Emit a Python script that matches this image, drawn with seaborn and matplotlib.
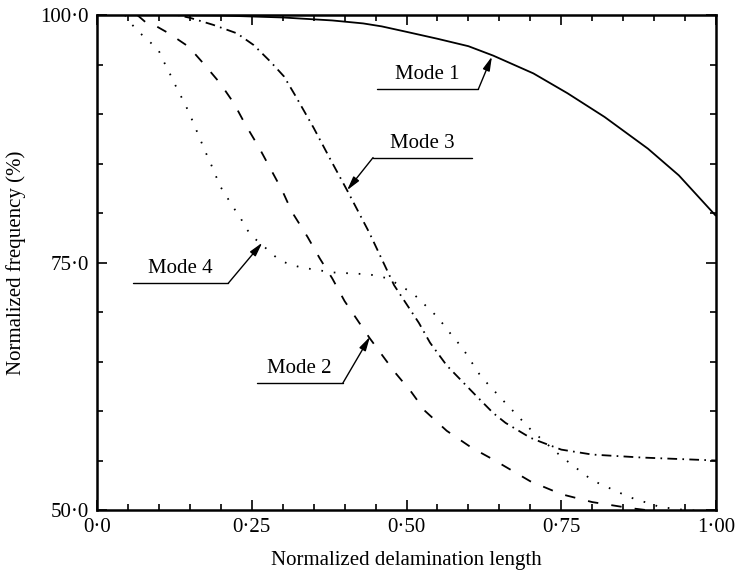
import matplotlib
matplotlib.use("Agg")
import matplotlib.pyplot as plt
import seaborn as sns
import pandas as pd
from matplotlib.ticker import MultipleLocator, FixedLocator, FixedFormatter

# ---- data ----
mode1_x = [0.0, 0.10, 0.20, 0.30, 0.38, 0.43, 0.46, 0.50, 0.55, 0.60, 0.64, 0.705, 0.76, 0.82,
           0.89, 0.94, 1.00]
mode1_y = [100.0, 100.0, 99.95, 99.75, 99.45, 99.15, 98.85, 98.3, 97.6, 96.85, 95.9, 94.1, 92.1,
           89.7, 86.5, 83.8, 79.7]

mode2_x = [0.065, 0.078, 0.092, 0.116, 0.148, 0.172, 0.199, 0.221, 0.240, 0.261, 0.280, 0.299,
           0.315, 0.34, 0.36, 0.38, 0.40, 0.44, 0.48, 0.508, 0.53, 0.565, 0.605, 0.64, 0.70,
           0.75, 0.80, 0.86, 0.90, 1.00]
mode2_y = [100.0, 99.3, 99.0, 98.15, 96.8, 95.1, 93.1, 91.1, 88.9, 86.7, 84.5, 82.3,
           80.1, 77.6, 75.4, 73.4, 71.1, 67.4, 64.0, 61.9, 60.0, 58.0, 56.3, 55.1, 52.9,
           51.6, 50.8, 50.2, 49.9, 49.5]

mode3_x = [0.0, 0.13, 0.151, 0.188, 0.226, 0.253, 0.280, 0.302, 0.320, 0.35, 0.378, 0.404, 0.44,
           0.48, 0.52, 0.538, 0.565, 0.61, 0.64, 0.66, 0.70, 0.716, 0.75, 0.80, 0.88, 1.00]
mode3_y = [100.0, 100.0, 99.7, 99.0, 98.15, 96.97, 95.3, 93.8, 91.9, 88.6, 85.3, 82.3, 78.0,
           72.7, 68.9, 66.9, 64.6, 61.7, 59.8, 58.8, 57.3, 56.9, 56.1, 55.6, 55.3, 55.0]

mode4_x = [0.045, 0.057, 0.070, 0.085, 0.099, 0.107, 0.116, 0.125, 0.134, 0.143, 0.151, 0.159,
           0.167, 0.175, 0.183, 0.199, 0.210, 0.221, 0.232, 0.240, 0.253, 0.267, 0.280, 0.296,
           0.312, 0.33, 0.38, 0.44, 0.47, 0.51, 0.55, 0.575, 0.59, 0.62, 0.66, 0.701, 0.75,
           0.80, 0.86, 0.91, 0.95, 1.0]
mode4_y = [100.0, 99.0, 98.15, 97.3, 96.5, 95.4, 94.3, 93.1, 92.0, 90.9, 89.8, 88.6,
           87.4, 86.2, 85.1, 82.7, 81.6, 80.5, 79.5, 78.5, 77.5, 76.8, 76.0, 75.2,
           74.8, 74.5, 74.0, 73.8, 73.4, 71.9, 69.5, 67.5, 66.4, 63.5, 60.8, 58.1, 55.4,
           53.0, 51.3, 50.3, 50.0, 49.8]

mode_names = ["Mode 1", "Mode 2", "Mode 3", "Mode 4"]
x_ticks = [0.0, 0.25, 0.50, 0.75, 1.00]
x_tick_labels = ["0·0", "0·25", "0·50", "0·75", "1·00"]
y_ticks = [50.0, 75.0, 100.0]
y_tick_labels = ["50·0", "75·0", "100·0"]
x_label = "Normalized delamination length"
y_label = "Normalized frequency (%)"

# ---- style ----
sns.set_theme(style="ticks")
plt.rcParams["font.family"] = ["Liberation Serif", "DejaVu Serif"]
plt.rcParams["lines.scale_dashes"] = False
plt.rcParams["text.color"] = "black"
plt.rcParams["axes.labelcolor"] = "black"

fig = plt.figure(figsize=(7.36, 5.74), dpi=100)
ax = fig.add_axes([97 / 736, 1 - 510 / 574, (716 - 97) / 736, (510 - 15) / 574])

series = [
    (mode1_x, mode1_y, (0, ())),
    (mode2_x, mode2_y, (0, (7.5, 9.5))),
    (mode3_x, mode3_y, (0, (7, 3.8, 1.2, 3.8))),
    (mode4_x, mode4_y, (0, (1.2, 7.8))),
]
for (xs, ys, ls), name in zip(series, mode_names):
    df = pd.DataFrame({"x": xs, "y": ys})
    sns.lineplot(data=df, x="x", y="y", ax=ax, color="black", linewidth=1.3,
                 linestyle=ls, estimator=None, sort=False, legend=False)

ax.set_xlim(0, 1)
ax.set_ylim(50, 100)
ax.xaxis.set_major_locator(FixedLocator(x_ticks))
ax.xaxis.set_major_formatter(FixedFormatter(x_tick_labels))
ax.yaxis.set_major_locator(FixedLocator(y_ticks))
ax.yaxis.set_major_formatter(FixedFormatter(y_tick_labels))
ax.xaxis.set_minor_locator(MultipleLocator(0.05))
ax.yaxis.set_minor_locator(MultipleLocator(5))
ax.tick_params(which="both", direction="in", top=True, right=True, width=1.2,
               labelsize=15, colors="black")
ax.tick_params(which="major", length=7, pad=6)
ax.tick_params(which="minor", length=4)
for s in ax.spines.values():
    s.set_linewidth(1.8)
    s.set_color("black")

ax.set_xlabel(x_label, fontsize=15, labelpad=10)
ax.set_ylabel(y_label, fontsize=15)
ax.yaxis.set_label_coords(-0.114, 0.5)

# ---- annotations: (name, underline x0, x1, y, leader start x, tip x, tip y) ----
annots = [
    ("Mode 1", 0.452, 0.616, 92.5, 0.616, 0.638, 95.8),
    ("Mode 3", 0.446, 0.606, 85.6, 0.446, 0.404, 82.3),
    ("Mode 4", 0.058, 0.212, 72.9, 0.212, 0.267, 77.0),
    ("Mode 2", 0.258, 0.397, 62.8, 0.397, 0.441, 67.5),
]
for name, ux0, ux1, uy, lx, tx, ty in annots:
    ax.plot([ux0, ux1], [uy, uy], color="black", linewidth=1.0)
    ax.text((ux0 + ux1) / 2, uy + 0.5, name, ha="center", va="bottom", fontsize=15,
            color="black")
    ax.annotate("", xy=(tx, ty), xytext=(lx, uy),
                arrowprops=dict(arrowstyle="-|>,head_length=0.7,head_width=0.18",
                                color="black", lw=1.0, shrinkA=0, shrinkB=0))

fig.savefig("out.png", dpi=100, facecolor="white")
